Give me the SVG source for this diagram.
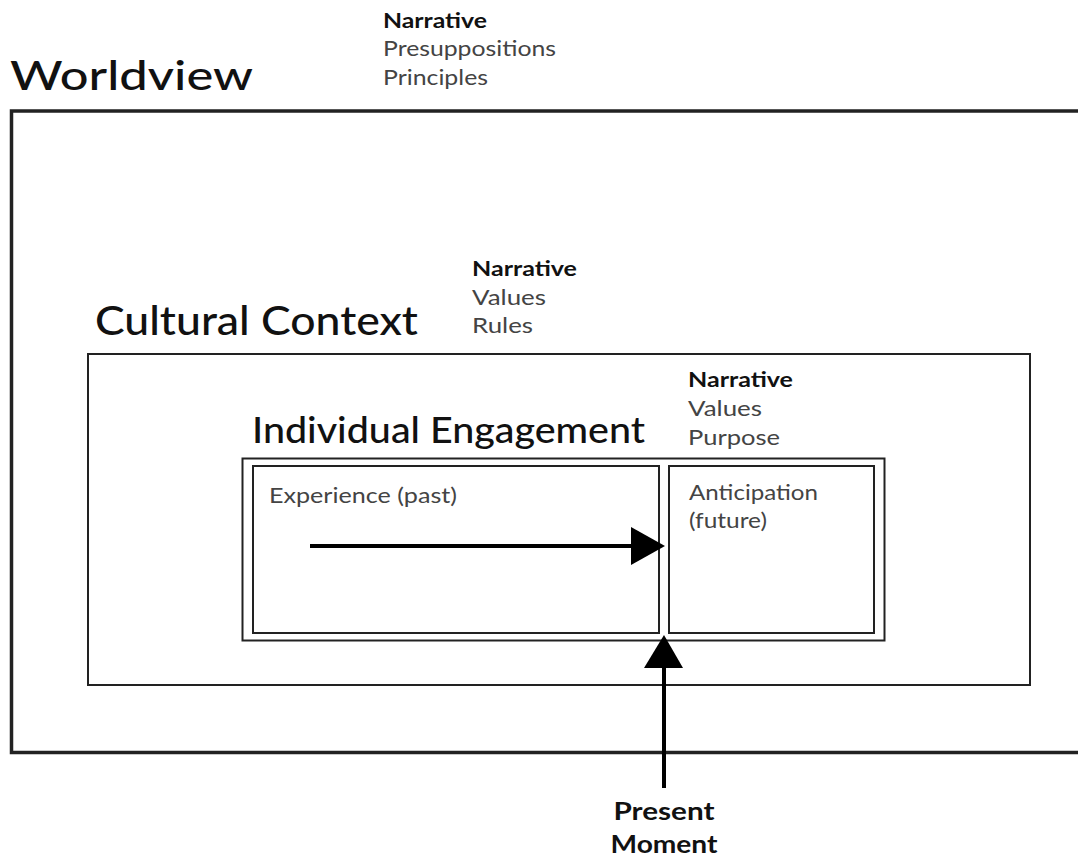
<svg xmlns="http://www.w3.org/2000/svg" width="1078" height="857" viewBox="0 0 1078 857">
<style>
.title{font-family:Lato,"Open Sans",sans-serif;font-size:40px;fill:#111;font-weight:500}
.sub{font-family:Lato,"Open Sans",sans-serif;font-size:21px;fill:#444}
.subb{font-family:Lato,"Open Sans",sans-serif;font-size:21px;fill:#111;font-weight:bold}
.box{fill:none;stroke:#222}
.pm{font-family:Lato,"Open Sans",sans-serif;font-size:25px;fill:#111;font-weight:bold;text-anchor:middle}
</style>
<rect width="1078" height="857" fill="#fff"/>
<g id="worldview">
<path class="box" d="M1080,111 H11.5 V752.5 H1080" stroke-width="3.5" stroke="#111"/>
<text class="title" x="10" y="90" textLength="243" lengthAdjust="spacingAndGlyphs">Worldview</text>
<text class="subb" x="383" y="28" textLength="104" lengthAdjust="spacingAndGlyphs">Narrative</text>
<text class="sub" x="383" y="56" textLength="173" lengthAdjust="spacingAndGlyphs">Presuppositions</text>
<text class="sub" x="383" y="85" textLength="105" lengthAdjust="spacingAndGlyphs">Principles</text>
</g>
<g id="cultural-context">
<rect class="box" x="88" y="354" width="942" height="331" stroke-width="2"/>
<text class="title" x="95" y="335" textLength="323" lengthAdjust="spacingAndGlyphs">Cultural Context</text>
<text class="subb" x="472" y="276" textLength="105" lengthAdjust="spacingAndGlyphs">Narrative</text>
<text class="sub" x="472" y="305" textLength="74" lengthAdjust="spacingAndGlyphs">Values</text>
<text class="sub" x="472" y="333" textLength="61" lengthAdjust="spacingAndGlyphs">Rules</text>
</g>
<g id="individual-engagement">
<rect class="box" x="242.5" y="458.5" width="642" height="182" stroke-width="2"/>
<text class="title" x="252" y="443" font-size="36" textLength="393" lengthAdjust="spacingAndGlyphs" style="font-size:36px">Individual Engagement</text>
<text class="subb" x="688" y="387" textLength="105" lengthAdjust="spacingAndGlyphs">Narrative</text>
<text class="sub" x="688" y="416" textLength="74" lengthAdjust="spacingAndGlyphs">Values</text>
<text class="sub" x="688" y="445" textLength="92" lengthAdjust="spacingAndGlyphs">Purpose</text>
</g>
<g id="experience">
<rect class="box" x="253" y="466" width="406" height="167" stroke-width="2"/>
<text class="sub" x="269" y="503" textLength="188" lengthAdjust="spacingAndGlyphs">Experience (past)</text>
</g>
<g id="anticipation">
<rect class="box" x="669" y="466" width="205" height="167" stroke-width="2"/>
<text class="sub" x="689" y="500" textLength="129" lengthAdjust="spacingAndGlyphs">Anticipation</text>
<text class="sub" x="689" y="528" textLength="78" lengthAdjust="spacingAndGlyphs">(future)</text>
</g>
<g id="present-moment">
<text class="pm" x="664" y="820" textLength="101" lengthAdjust="spacingAndGlyphs">Present</text>
<text class="pm" x="664" y="853" textLength="107" lengthAdjust="spacingAndGlyphs">Moment</text>
</g>
<g id="connectors">
<line x1="310" y1="546" x2="634" y2="546" stroke="#000" stroke-width="4"/>
<polygon points="631,527 665,546 631,565" fill="#000"/>
<line x1="664" y1="788" x2="664" y2="665" stroke="#000" stroke-width="4"/>
<polygon points="644,668 664,635 683,668" fill="#000"/>
</g>
</svg>
